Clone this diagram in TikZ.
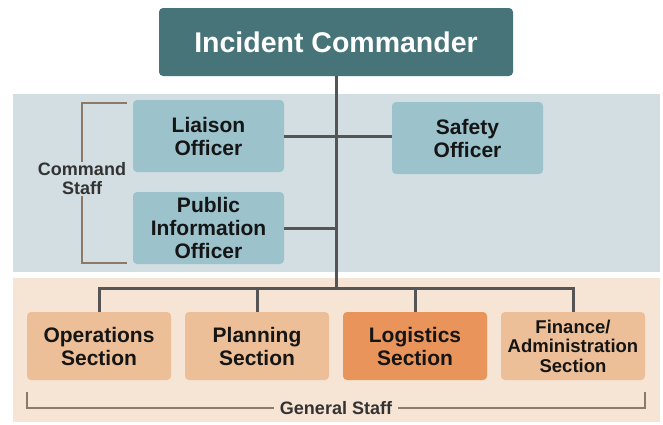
\documentclass[tikz,border=0pt]{standalone}
\usepackage{fontspec}
\setmainfont{Liberation Sans}
\definecolor{icfill}{HTML}{467479}
\definecolor{offfill}{HTML}{9CC2CC}
\definecolor{blueband}{HTML}{D2DEE1}
\definecolor{peachband}{HTML}{F6E4D4}
\definecolor{secfill}{HTML}{EDBF98}
\definecolor{logfill}{HTML}{E8945A}
\definecolor{linecol}{HTML}{555555}
\definecolor{brack}{HTML}{8C7A66}
\definecolor{txt}{HTML}{151515}
\definecolor{stafftxt}{HTML}{333333}
\begin{document}
\begin{tikzpicture}[x=1pt,y=-1pt,
  box/.style={rounded corners=4pt, align=center, font=\bfseries\fontsize{21}{23}\selectfont, text=txt, inner sep=0pt},
  officer/.style={box, fill=offfill, minimum width=151pt, minimum height=72pt},
  section/.style={box, fill=secfill, minimum width=144pt, minimum height=68pt},
  conn/.style={draw=linecol, line width=3pt},
  bracket/.style={draw=brack, line width=1.2pt},
  stafflabel/.style={font=\bfseries\fontsize{18}{19}\selectfont, text=stafftxt, align=center, inner sep=1pt}]
\useasboundingbox (0,0) rectangle (663,424);
\fill[white] (0,0) rectangle (663,424);
\fill[blueband] (13,94) rectangle (660,272);
\fill[peachband] (13,278) rectangle (660,422);

\node[box, fill=icfill, text=white, minimum width=354pt, minimum height=68pt, font=\bfseries\fontsize{28.5}{31}\selectfont] (ic) at (336,42) {Incident Commander};

\node[officer] (liaison) at (208.5,136) {Liaison\\Officer};
\node[officer] (safety) at (467.5,138) {Safety\\Officer};
\node[officer] (pio) at (208.5,228) {Public\\Information\\Officer};

\coordinate (bus) at (336,288);
\coordinate (jp) at (336,228);

\node[section] (ops) at (99,346) {Operations\\Section};
\node[section] (plan) at (257,346) {Planning\\Section};
\node[section, fill=logfill] (log) at (415,346) {Logistics\\Section};
\node[section, font=\bfseries\fontsize{18.5}{19.5}\selectfont] (fin) at (573,346) {Finance/\\Administration\\Section};

\draw[conn] (ic.south) -- (bus);
\draw[conn] (liaison.east) -- (liaison.east -| safety.west);
\draw[conn] (pio.east) -- (jp);
\draw[conn] (ops.north) |- (bus) -| (fin.north);
\draw[conn] (plan.north) -- (plan.north |- bus);
\draw[conn] (log.north) -- (log.north |- bus);

% Command staff bracket
\node[stafflabel] (cmd) at (82,179) {Command\\Staff};
\draw[bracket] (127,103) -- (82,103) -- (cmd.north -| 82,0);
\draw[bracket] (cmd.south -| 82,0) -- (82,263) -- (127,263);

% General staff bracket
\node[stafflabel, fill=peachband, inner xsep=6pt] (gen) at (336,408) {General Staff};
\draw[bracket] (27,392) -- (27,408) -- (gen.west);
\draw[bracket] (gen.east) -- (645,408) -- (645,392);
\end{tikzpicture}
\end{document}
